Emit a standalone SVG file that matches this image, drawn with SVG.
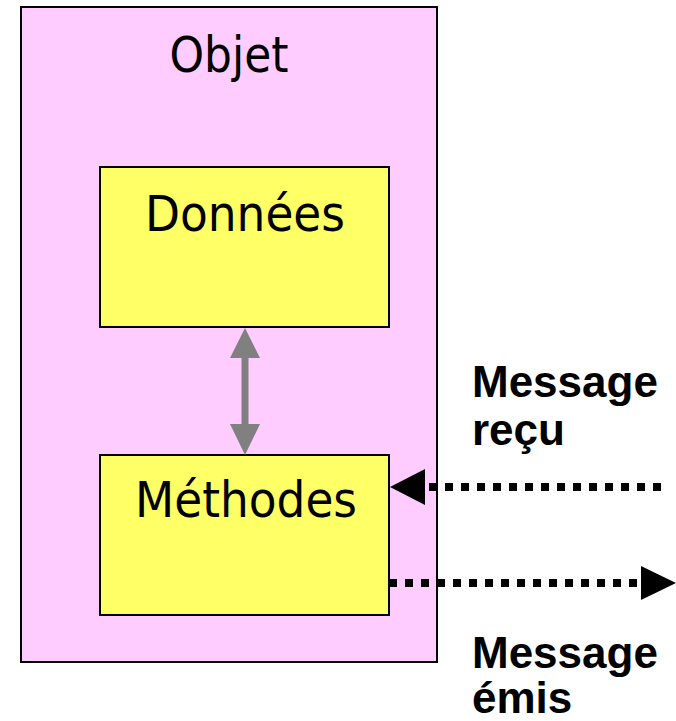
<svg xmlns="http://www.w3.org/2000/svg" width="676" height="721" viewBox="0 0 676 721">
<style>
.box{stroke:#000;stroke-width:2}
.big{font-family:"DejaVu Sans","Liberation Sans",sans-serif;font-size:49px;fill:#000}
.lbl{font-family:"Liberation Sans",Arial,sans-serif;font-weight:bold;font-size:44px;fill:#000}
.dot{stroke:#000;stroke-width:8;stroke-dasharray:8 8;fill:none}
</style>
<rect width="676" height="721" fill="#fff"/>
<g id="objet">
<rect class="box" x="21" y="7" width="416" height="655" fill="#FFCCFF"/>
<text class="big" x="229" y="72" text-anchor="middle" textLength="119" lengthAdjust="spacingAndGlyphs">Objet</text>
</g>
<g id="donnees">
<rect class="box" x="100" y="167" width="289" height="160" fill="#FFFF66"/>
<text class="big" x="245" y="231" text-anchor="middle" textLength="200" lengthAdjust="spacingAndGlyphs">Données</text>
</g>
<g id="methodes">
<rect class="box" x="100" y="455" width="289" height="160" fill="#FFFF66"/>
<text class="big" x="246" y="517" text-anchor="middle" textLength="222" lengthAdjust="spacingAndGlyphs">Méthodes</text>
</g>
<g id="connectors">
<line x1="245" y1="356" x2="245" y2="426" stroke="#808080" stroke-width="7"/>
<polygon points="245,328 230,358 260,358" fill="#808080"/>
<polygon points="245,455 230,424 260,424" fill="#808080"/>
<line class="dot" x1="429" y1="487" x2="662" y2="487"/>
<polygon points="390,487 425,469 425,505" fill="#000"/>
<line class="dot" x1="389" y1="583" x2="640" y2="583"/>
<polygon points="676,583 641,566 641,600" fill="#000"/>
</g>
<g id="labels">
<text class="lbl" x="472" y="397">Message</text>
<text class="lbl" x="472" y="445">reçu</text>
<text class="lbl" x="472" y="668">Message</text>
<text class="lbl" x="472" y="713">émis</text>
</g>
</svg>
